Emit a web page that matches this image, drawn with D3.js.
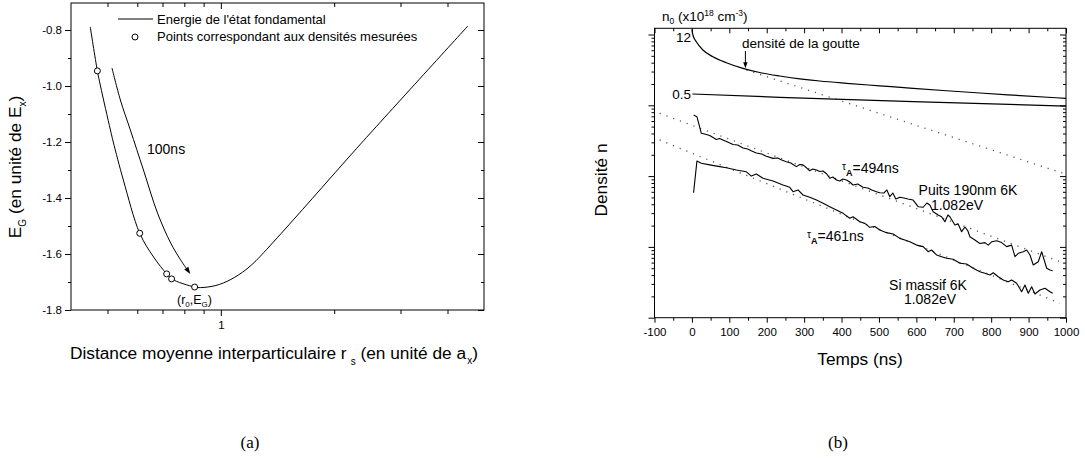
<!DOCTYPE html>
<html><head><meta charset="utf-8">
<script src="https://cdn.jsdelivr.net/npm/d3@7"></script>
<style>
body{margin:0;background:#fff}
svg text{font-family:"Liberation Sans",Arial,sans-serif;fill:#000}
</style>
</head><body>
<svg id="c" width="1085" height="460"></svg>
<script>
// ---------- Panel (a) data ----------
const rsCurve = [0.450,0.470,0.479,0.509,0.518,0.551,0.609,0.663,0.718,0.740,0.852,0.884,0.970,1.063,1.166,1.240,1.302,1.556,1.965,2.362,4.529];
const egCurve = [-0.789,-0.946,-1.0,-1.157,-1.2,-1.336,-1.526,-1.611,-1.671,-1.689,-1.718,-1.720,-1.7125,-1.691,-1.656,-1.624,-1.594,-1.479,-1.325,-1.204,-0.786];
const rsPoints = [0.470,0.609,0.718,0.740,0.852];
const egPoints = [-0.946,-1.526,-1.671,-1.689,-1.718];
const rsArrow = [0.514,0.541,0.575,0.623,0.679,0.736,0.782,0.822];
const egArrow = [-0.936,-1.05,-1.157,-1.3,-1.454,-1.561,-1.621,-1.664];
const yTicksA = [-1.8,-1.6,-1.4,-1.2,-1.0,-0.8];
const yMinorA = [-1.7,-1.5,-1.3,-1.1,-0.9];
const xTicksA = [1];
const xMinorA = [0.5,0.6,0.7,0.8,0.9,2,3,4];

// ---------- Panel (b) data ----------
const tPuits = [4.5,13.4,25.2,34,47.6,65.3,74.1,83,95.5,109.7,122.3,136.5,149,159.8,172.3,186.5,197.2,216.8,229.3,240,252.6,264.1,279.4,288.2,297,307,315,323,333,341.8,350.6,360.5,368.5,376.6,386.4,395.3,403.3,413.2,422,430.8,443.4,457.6,470.2,480.9,493.5,502.3,513,521,529.1,537.1,545.1,555.8,566.5,577.2,591.4,604.8,618.2,628,636,644.9,658.3,667.4,676.2,684.3,689.6,703,711.8,720.9,729.8,737.8,743.1,756.5,769.9,783.3,792.1,801.2,814.6,828,841.3,854.7,863.6,872.4,885.8,894.9,903.7,912.5,925.9,935,948.4,957.2,964.4];
const nPuits = [729,690,402,393,374,329,340,324,303,279,275,249,241,226,212,205,192,178,180,169,160,153,136,146,144,130,119,126,122,116,118,107,93.1,97.1,88.1,85.3,91.0,88.1,82.6,74.9,77.3,69.5,67.9,63.7,60.3,58.3,57.7,63.7,51.2,57.7,47.5,50.2,49.1,47.5,45.9,37.0,36.3,41.7,39.1,31.4,28.2,26.7,22.7,28.2,26.7,20.4,21.0,16.4,19.1,16.8,13.9,12.5,11.2,11.5,10.6,11.8,12.2,11.5,10.1,10.6,7.28,8.12,8.55,9.04,7.69,5.55,6.18,8.55,4.99,4.72,4.61];
const tSi = [4.5,13.4,25.2,47.6,74.1,92.1,118.8,145.6,159,172.3,190,216.8,243.5,261.5,270.3,283.7,297,315,333,350.6,368.5,386.4,404.1,422,430.8,448.8,462.2,475.5,488.9,502.3,520.2,537.9,555.8,569.2,582.6,600.5,618.2,631.5,640.6,654,667.4,680.8,698.4,716.4,734.3,751.9,769.9,783.3,796.7,805.5,818.9,832.3,845.6,854.7,868.1,881.5,890.3,899.1,908.2,917,930.4,943.8,957.2,964.4];
const nSi = [58.3,163,152,144,136,131,122,115,100,107,93.1,85.3,74.9,69.5,60.3,63.7,54.1,50.2,45.9,41.3,37.0,33.2,29.8,25.4,26.7,22.7,21.5,18.9,19.4,17.3,15.9,15.2,13.2,12.5,11.8,10.6,10.1,8.55,9.04,7.69,7.28,6.90,6.68,5.87,5.73,4.99,4.47,4.24,4.01,4.32,3.79,3.41,3.22,3.41,3.06,2.33,2.90,2.21,2.74,2.16,2.46,2.60,2.33,2.21];
const tDrop = [0,2.7,11.8,29.4,56.2,92,136.5,181.2,234.7,288.2,341.7,413.2,502.3,591.4,680.8,769.9,858.1,1000];
const nDrop = [11840,9840,7910,6040,4850,4000,3330,2904,2594,2368,2204,2046,1885,1738,1607,1492,1393,1256];
const tHalf = [1.1,234.7,591.4,1000];
const nHalf = [1445,1297,1125,977];
const tFitDrop = [145.6,992.8], nFitDrop = [3152,109.6];
const tFitPuits = [-86.4,983.7], nFitPuits = [771,6.18];
const tFitSi = [-86.4,983.7], nFitSi = [324,1.60];
const xTicksB = [-100,0,100,200,300,400,500,600,700,800,900,1000];
const xMinorB = [-50,50,150,250,350,450,550,650,750,850,950];
const yMajorB = [1,10,100,1000,10000];
const yMinorB = [];
[1,10,100,1000].forEach(d=>{for(let k=2;k<=9;k++) yMinorB.push(k*d);});

const svg = d3.select('#c');
svg.append('rect').attr('width',1085).attr('height',460).attr('fill','#fff');

function styleAxis(g, fs){
  g.select('.domain').remove();
  g.selectAll('line').attr('stroke','#000');
  g.attr('font-family',null).attr('font-size',null);
  g.selectAll('text').attr('font-size',fs).attr('fill','#000');
}
function arrowHead(sel, x1,y1,x2,y2,len,half){
  const a = Math.atan2(y2-y1,x2-x1);
  const bx = x2-len*Math.cos(a), by = y2-len*Math.sin(a);
  const px = -Math.sin(a)*half, py = Math.cos(a)*half;
  sel.append('path').attr('d',`M${x2},${y2}L${bx+px},${by+py}L${bx-px},${by-py}Z`).attr('fill','#000');
}

// ================= Panel (a) =================
const xA = d3.scaleLog().domain([0.4,5]).range([71,484]);
const yA = d3.scaleLinear().domain([-1.8,-0.7036]).range([310,3]);
const fmtA = d=>d.toFixed(1);
const gA = svg.append('g');
styleAxis(gA.append('g').attr('transform','translate(71,0)').call(d3.axisLeft(yA).tickValues(yTicksA).tickSize(6).tickPadding(3).tickFormat(fmtA)),11.5);
styleAxis(gA.append('g').attr('transform','translate(71,0)').call(d3.axisLeft(yA).tickValues(yMinorA).tickSize(3).tickFormat('')),11.5);
styleAxis(gA.append('g').attr('transform','translate(484,0)').call(d3.axisRight(yA).tickValues(yTicksA).tickSize(-6).tickFormat('')),11.5);
styleAxis(gA.append('g').attr('transform','translate(484,0)').call(d3.axisRight(yA).tickValues(yMinorA).tickSize(-3).tickFormat('')),11.5);
styleAxis(gA.append('g').attr('transform','translate(0,310)').call(d3.axisBottom(xA).tickValues(xTicksA).tickSize(6).tickPadding(5).tickFormat(d3.format('d'))),11.5);
styleAxis(gA.append('g').attr('transform','translate(0,310)').call(d3.axisBottom(xA).tickValues(xMinorA).tickSize(4).tickFormat('')),11.5);
styleAxis(gA.append('g').attr('transform','translate(0,3)').call(d3.axisTop(xA).tickValues(xTicksA).tickSize(-6).tickFormat('')),11.5);
styleAxis(gA.append('g').attr('transform','translate(0,3)').call(d3.axisTop(xA).tickValues(xMinorA).tickSize(-4).tickFormat('')),11.5);
gA.append('rect').attr('x',71).attr('y',3).attr('width',413).attr('height',307).attr('fill','none').attr('stroke','#000');

const lineA = d3.line().x(d=>xA(d[0])).y(d=>yA(d[1])).curve(d3.curveCatmullRom);
gA.append('path').attr('d',lineA(d3.zip(rsCurve,egCurve))).attr('fill','none').attr('stroke','#000').attr('stroke-width',1);
const arr = d3.zip(rsArrow,egArrow);
gA.append('path').attr('d',lineA(arr)).attr('fill','none').attr('stroke','#000').attr('stroke-width',1);
{
  const p1=arr[arr.length-2], p2=arr[arr.length-1];
  arrowHead(gA, xA(p1[0]),yA(p1[1]),xA(p2[0])+1.5,yA(p2[1])+2,7,2.5);
}
gA.selectAll('circle.pt').data(d3.zip(rsPoints,egPoints)).join('circle').attr('class','pt')
  .attr('cx',d=>xA(d[0])).attr('cy',d=>yA(d[1])).attr('r',3).attr('fill','#fff').attr('stroke','#000').attr('stroke-width',1);

gA.append('line').attr('x1',118).attr('x2',153).attr('y1',19).attr('y2',19).attr('stroke','#000');
gA.append('text').attr('x',157).attr('y',24).attr('font-size',13).text("Energie de l'état fondamental");
gA.append('circle').attr('cx',135).attr('cy',37).attr('r',3).attr('fill','#fff').attr('stroke','#000');
gA.append('text').attr('x',157).attr('y',41).attr('font-size',13).text('Points correspondant aux densités mesurées');
gA.append('text').attr('x',147).attr('y',154).attr('font-size',14).text('100ns');
{
  const t = gA.append('text').attr('x',177).attr('y',304).attr('font-size',12.5);
  t.append('tspan').text('(r');
  t.append('tspan').attr('font-size',8).attr('dy',3).text('0');
  t.append('tspan').attr('dy',-3).text(',E');
  t.append('tspan').attr('font-size',8).attr('dy',3).text('G');
  t.append('tspan').attr('dy',-3).text(')');
}
{
  const t = gA.append('text').attr('x',70).attr('y',359).attr('font-size',17.3);
  t.append('tspan').text('Distance moyenne interparticulaire r');
  t.append('tspan').attr('font-size',10).attr('dx',4).attr('dy',6).text('s');
  t.append('tspan').attr('dy',-6).text(' (en unité de a');
  t.append('tspan').attr('font-size',10).attr('dx',1).attr('dy',5).text('x');
  t.append('tspan').attr('dy',-5).text(')');
}
{
  const t = gA.append('text').attr('transform','translate(21,167) rotate(-90)').attr('text-anchor','middle').attr('font-size',17.3);
  t.append('tspan').text('E');
  t.append('tspan').attr('font-size',10).attr('dy',5).text('G');
  t.append('tspan').attr('dy',-5).text(' (en unité de E');
  t.append('tspan').attr('font-size',10).attr('dy',5).text('x');
  t.append('tspan').attr('dy',-5).text(')');
}

// ================= Panel (b) =================
const xB = d3.scaleLinear().domain([-100,1000]).range([654.5,1066]);
const yB = d3.scaleLog().domain([1,12240]).range([317.7,28.3]);
const gB = svg.append('g');
styleAxis(gB.append('g').attr('transform','translate(0,317.7)').call(d3.axisBottom(xB).tickValues(xTicksB).tickSize(5).tickPadding(5).tickFormat(d=>String(d))),11.5);
styleAxis(gB.append('g').attr('transform','translate(0,317.7)').call(d3.axisBottom(xB).tickValues(xMinorB).tickSize(3).tickFormat('')),11.5);
styleAxis(gB.append('g').attr('transform','translate(0,28.3)').call(d3.axisTop(xB).tickValues(xTicksB).tickSize(-5).tickFormat('')),11.5);
styleAxis(gB.append('g').attr('transform','translate(0,28.3)').call(d3.axisTop(xB).tickValues(xMinorB).tickSize(-3).tickFormat('')),11.5);
styleAxis(gB.append('g').attr('transform','translate(654.5,0)').call(d3.axisLeft(yB).tickValues(yMajorB).tickSize(6).tickFormat('')),11.5);
styleAxis(gB.append('g').attr('transform','translate(654.5,0)').call(d3.axisLeft(yB).tickValues(yMinorB).tickSize(3).tickFormat('')),11.5);
styleAxis(gB.append('g').attr('transform','translate(1066,0)').call(d3.axisRight(yB).tickValues(yMajorB).tickSize(-6).tickFormat('')),11.5);
styleAxis(gB.append('g').attr('transform','translate(1066,0)').call(d3.axisRight(yB).tickValues(yMinorB).tickSize(-3).tickFormat('')),11.5);
gB.append('rect').attr('x',654.5).attr('y',28.3).attr('width',411.5).attr('height',289.4).attr('fill','none').attr('stroke','#000');

const lineB = d3.line().x(d=>xB(d[0])).y(d=>yB(d[1]));
const lineBs = d3.line().x(d=>xB(d[0])).y(d=>yB(d[1])).curve(d3.curveMonotoneX);
[[tFitDrop,nFitDrop],[tFitPuits,nFitPuits],[tFitSi,nFitSi]].forEach(([t,n])=>{
  gB.append('path').attr('d',lineB(d3.zip(t,n))).attr('fill','none').attr('stroke','#555').attr('stroke-width',1.3).attr('stroke-dasharray','1.2,6');
});
gB.append('path').attr('d',lineBs(d3.zip(tDrop,nDrop))).attr('fill','none').attr('stroke','#000').attr('stroke-width',1.2);
gB.append('path').attr('d',lineBs(d3.zip(tHalf,nHalf))).attr('fill','none').attr('stroke','#000').attr('stroke-width',1.2);
gB.append('path').attr('d',lineB(d3.zip(tPuits,nPuits))).attr('fill','none').attr('stroke','#000').attr('stroke-width',1.1).attr('stroke-linejoin','round');
gB.append('path').attr('d',lineB(d3.zip(tSi,nSi))).attr('fill','none').attr('stroke','#000').attr('stroke-width',1.1).attr('stroke-linejoin','round');

gB.append('text').attr('x',691).attr('y',42).attr('font-size',13.5).attr('text-anchor','end').text('12');
gB.append('text').attr('x',691).attr('y',99).attr('font-size',13.5).attr('text-anchor','end').text('0.5');
gB.append('text').attr('x',742).attr('y',48).attr('font-size',13.5).text('densité de la goutte');
{
  const xa = xB(143), y1 = 51, y2 = yB(3230)-1;
  gB.append('line').attr('x1',xa).attr('x2',xa).attr('y1',y1).attr('y2',y2-4).attr('stroke','#000');
  arrowHead(gB, xa,y1,xa,y2,6,2.2);
}
{
  const t = gB.append('text').attr('x',662).attr('y',21).attr('font-size',13.5);
  t.append('tspan').text('n');
  t.append('tspan').attr('font-size',8.5).attr('dy',3).text('0');
  t.append('tspan').attr('dy',-3).text(' (x10');
  t.append('tspan').attr('font-size',8.5).attr('dy',-5).text('18');
  t.append('tspan').attr('dy',5).text(' cm');
  t.append('tspan').attr('font-size',8.5).attr('dy',-5).text('-3');
  t.append('tspan').attr('dy',5).text(')');
}
function tauLabel(x,y,val){
  const t = gB.append('text').attr('x',x).attr('y',y).attr('font-size',14);
  t.append('tspan').attr('font-size',10).attr('dy',-3).text('τ');
  t.append('tspan').attr('font-size',9).attr('font-weight','bold').attr('dy',6).text('A');
  t.append('tspan').attr('dy',-3).text('='+val);
}
tauLabel(842,173,'494ns');
tauLabel(807,241,'461ns');
gB.append('text').attr('x',968).attr('y',195).attr('font-size',14).attr('text-anchor','middle').text('Puits 190nm 6K');
gB.append('text').attr('x',957).attr('y',210).attr('font-size',14).attr('text-anchor','middle').text('1.082eV');
gB.append('text').attr('x',928).attr('y',290).attr('font-size',14).attr('text-anchor','middle').text('Si massif 6K');
gB.append('text').attr('x',930).attr('y',304).attr('font-size',14).attr('text-anchor','middle').text('1.082eV');
gB.append('text').attr('transform','translate(607,180) rotate(-90)').attr('text-anchor','middle').attr('font-size',17.3).text('Densité n');
gB.append('text').attr('x',860).attr('y',365).attr('text-anchor','middle').attr('font-size',17.3).text('Temps (ns)');

svg.append('text').attr('x',250).attr('y',448).attr('text-anchor','middle').attr('font-size',17).style('font-family','"Liberation Serif",serif').text('(a)');
svg.append('text').attr('x',838).attr('y',448).attr('text-anchor','middle').attr('font-size',17).style('font-family','"Liberation Serif",serif').text('(b)');
</script>
</body></html>
